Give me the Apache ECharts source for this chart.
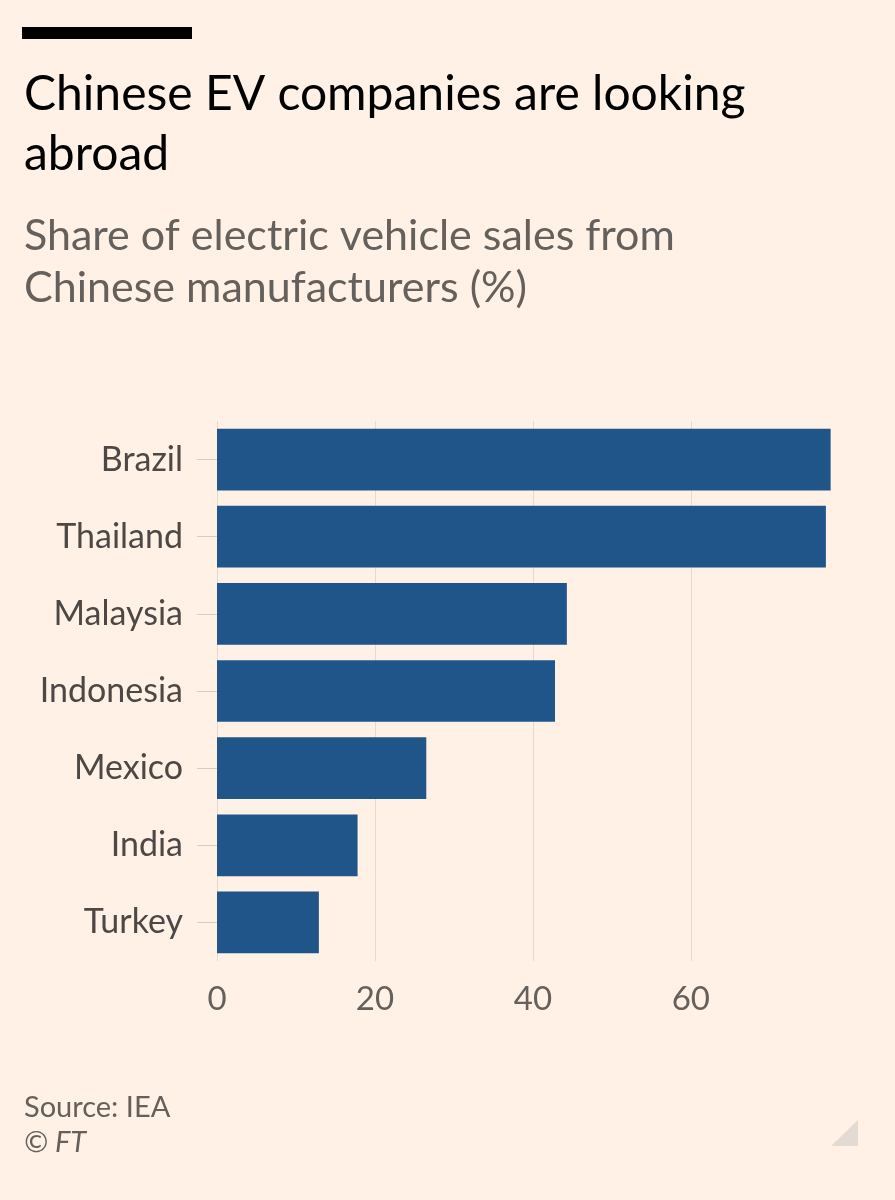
<!DOCTYPE html>
<html>
<head>
<meta charset="utf-8">
<style>
html,body{margin:0;padding:0;background:#fff1e5;}
#chart{width:895px;height:1200px;}
</style>
<script src="https://cdn.jsdelivr.net/npm/echarts@6/dist/echarts.min.js"></script>
</head>
<body>
<div id="chart"></div>
<script>
const categories = ['Brazil', 'Thailand', 'Malaysia', 'Indonesia', 'Mexico', 'India', 'Turkey'];
const values = [77.7, 77.1, 44.3, 42.8, 26.5, 17.8, 12.9];
const tickValues = [0, 20, 40, 60];

const chart = echarts.init(document.getElementById('chart'), null, {renderer: 'canvas'});
const font = 'Lato, "Open Sans", sans-serif';
chart.setOption({
  backgroundColor: '#fff1e5',
  animation: false,
  title: [
    {text: 'Chinese EV companies are looking\nabroad', left: 19, top: 60,
     textStyle: {fontFamily: font, fontSize: 48, fontWeight: 'normal', color: '#000000', lineHeight: 60}},
    {text: 'Share of electric vehicle sales from\nChinese manufacturers (%)', left: 19, top: 205,
     textStyle: {fontFamily: font, fontSize: 43, fontWeight: 'normal', color: '#66605c', lineHeight: 52}},
    {text: 'Source: IEA', left: 19, top: 1088,
     textStyle: {fontFamily: font, fontSize: 29, fontWeight: 'normal', color: '#66605c'}},
    {text: '© FT', left: 19, top: 1123,
     textStyle: {fontFamily: font, fontSize: 29, fontWeight: 'normal', fontStyle: 'italic', color: '#66605c'}}
  ],
  graphic: [
    {type: 'rect', shape: {x: 22, y: 27, width: 170, height: 12}, style: {fill: '#000000'}},
    {type: 'polygon', shape: {points: [[858, 1120], [858, 1146], [831, 1146]]}, style: {fill: '#e3dbd3'}}
  ],
  grid: {left: 217, right: 62, top: 421, height: 540, containLabel: false},
  xAxis: {
    type: 'value', min: 0, max: 78, interval: 20,
    axisLine: {show: false}, axisTick: {show: false},
    axisLabel: {
      fontFamily: font, fontSize: 33, color: '#66605c', margin: 22,
      showMaxLabel: false,
      formatter: function (v) { return tickValues.indexOf(v) >= 0 ? String(v) : ''; }
    },
    splitLine: {show: true, showMaxLine: false, lineStyle: {color: '#e6d9ce', width: 1}}
  },
  yAxis: {
    type: 'category', data: categories, inverse: true,
    axisLine: {show: false},
    axisTick: {show: true, alignWithLabel: true, length: 20, lineStyle: {color: '#d9cdc2', width: 1}},
    axisLabel: {fontFamily: font, fontSize: 34, color: '#4d4845', margin: 34}
  },
  series: [{
    type: 'bar', data: values, barCategoryGap: '20%',
    itemStyle: {color: '#20558a'}
  }]
});
</script>
</body>
</html>
